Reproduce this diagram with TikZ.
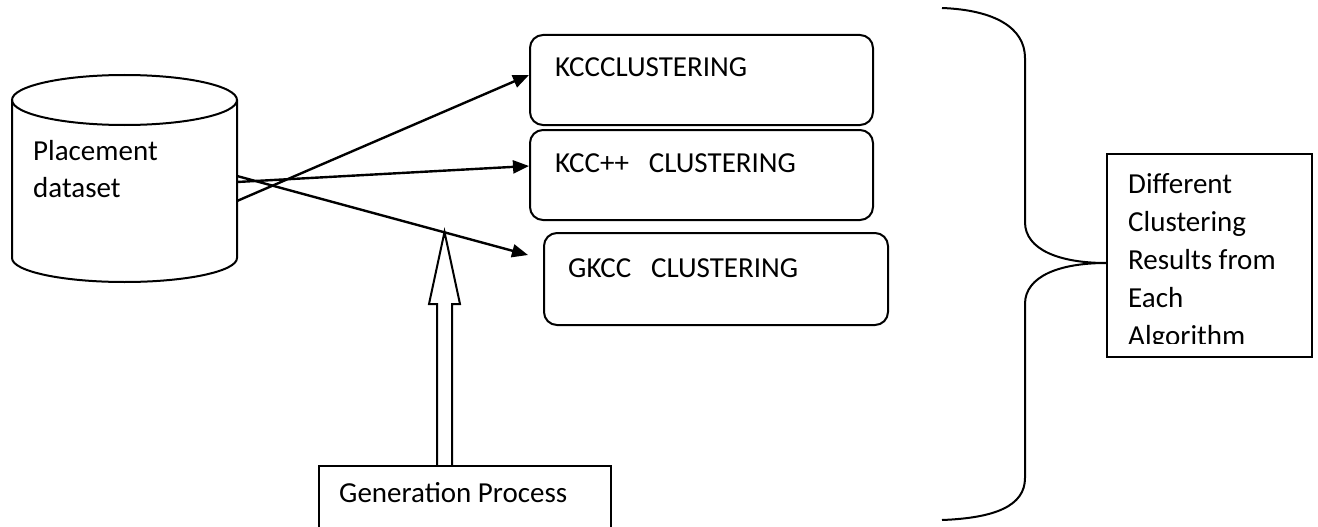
\documentclass[tikz,border=0pt]{standalone}
\usepackage{fontspec}
\setmainfont{Carlito}
\usetikzlibrary{arrows.meta}

\begin{document}
\begin{tikzpicture}[x=1pt, y=-1pt,
    every node/.style={font=\fontsize{29}{38}\selectfont, inner sep=0pt},
    lbl/.style={anchor=base west},
    clbox/.style={draw, rounded corners=13pt, line width=2pt, minimum width=343pt, minimum height=90pt},
    plainbox/.style={draw, line width=2pt},
    arr/.style={line width=2.4pt, -{Triangle[length=16pt, width=13pt]}}]
    \useasboundingbox (0,0) rectangle (1318,527);
    \clip (0,0) rectangle (1318,527);

    % dataset drum
    \draw[line width=2pt] (12,100) -- (12,258) arc[start angle=180, end angle=0, x radius=112.5, y radius=24] -- (237,100);
    \draw[line width=2pt] (124.5,100) ellipse[x radius=112.5, y radius=25];
    \node[lbl] (place) at (33,160) {Placement};
    \node[lbl] (dset) at (33,197) {dataset};
    \coordinate (out1) at (237,201);
    \coordinate (out2) at (237,182);
    \coordinate (out3) at (237,176);

    % the three algorithms
    \node[clbox] (kcc) at (701.5,80) {};
    \node[clbox] (kccpp) at (701.5,175) {};
    \node[clbox, minimum width=344pt, minimum height=92pt] (gkcc) at (716,279) {};
    \node[lbl] (kcct) at (555,77) {KCCCLUSTERING};
    \node[lbl] (kccppt) at (555,172) {KCC++\ \ \ CLUSTERING};
    \node[lbl] (gkcct) at (568,277) {GKCC\ \ \ CLUSTERING};
    \coordinate (in3) at (528,255);

    \draw[arr] (out1) -- ([yshift=5pt]kcc.west);
    \draw[arr] (out2) -- ([yshift=9pt]kccpp.west);
    \draw[arr] (out3) -- (in3);

    % generation process (runs off the page)
    \node[plainbox, minimum width=292pt, minimum height=90pt, anchor=north west] (gen) at (318,465) {};
    \node[lbl] (gent) at (339,502) {Generation Process};

    % hollow arrow up to the data flow
    \coordinate (tip) at (444.5,232);
    \draw[line width=2pt] (437,0 |- gen.north) -- (437,304) -- (429,304) -- (tip)
        -- (460,304) -- (452,304) -- (452,0 |- gen.north);

    % results box and brace
    \node[plainbox, minimum width=205pt, minimum height=203pt] (res) at (1209.5,255.5) {};
    \coordinate (bpt) at ([yshift=-7.5pt]res.west);
    \draw[line width=2pt] (942,8) .. controls (995,10) and (1025,28) .. (1025,58)
        -- (1025,222) .. controls (1025,250) and (1060,263) .. (bpt)
        .. controls (1060,263) and (1025,276) .. (1025,304)
        -- (1025,478) .. controls (1025,506) and (995,518) .. (942,520);
    \begin{scope}
        \clip (res.north west) rectangle (1312,343);
        \foreach \t [count=\i] in {Different, Clustering, Results from, Each, Algorithm}
            \node[lbl] (r\i) at (1128,{155+38*\i}) {\t};
    \end{scope}
\end{tikzpicture}
\end{document}
